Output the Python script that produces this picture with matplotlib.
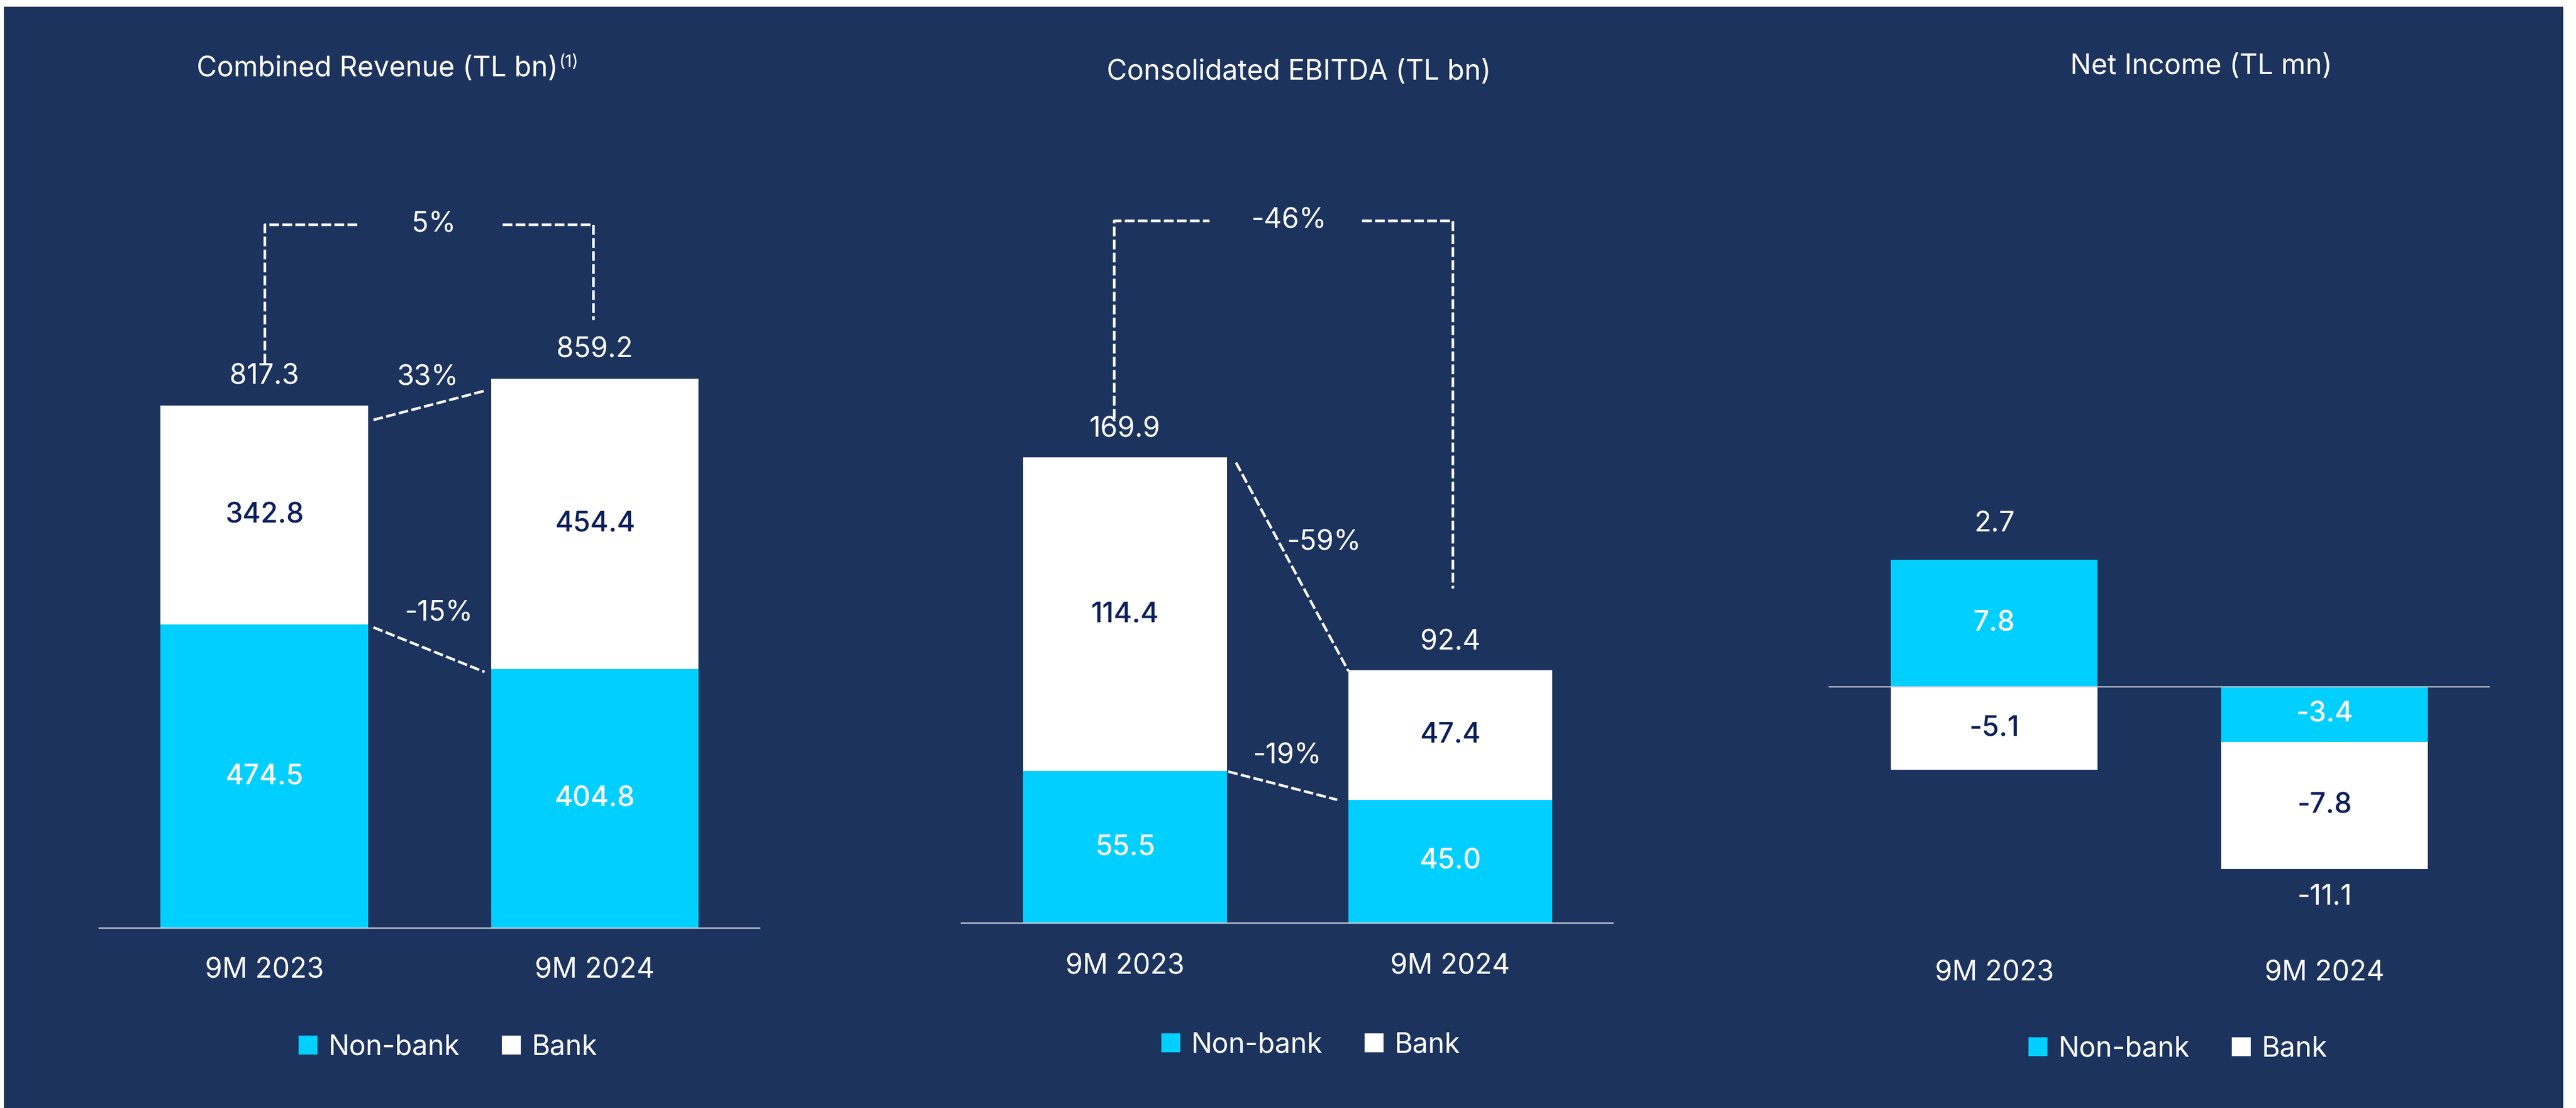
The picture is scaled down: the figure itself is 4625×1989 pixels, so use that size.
import numpy as np
import matplotlib
matplotlib.use("Agg")
import matplotlib.pyplot as plt
from matplotlib.patches import Rectangle, Patch

plt.rcParams['font.family'] = ['Inter', 'DejaVu Sans']

# --- data ---
categories = ["9M 2023", "9M 2024"]
segments = ["Non-bank", "Bank"]

revenue_nonbank = [474.5, 404.8]
revenue_bank = [342.8, 454.4]
revenue_total = [817.3, 859.2]
revenue_growth = {"total": "5%", "bank": "33%", "nonbank": "-15%"}

ebitda_nonbank = [55.5, 45.0]
ebitda_bank = [114.4, 47.4]
ebitda_total = [169.9, 92.4]
ebitda_growth = {"total": "-46%", "bank": "-59%", "nonbank": "-19%"}

netinc_nonbank = [7.8, -3.4]
netinc_bank = [-5.1, -7.8]
netinc_total = [2.7, -11.1]

# --- style ---
NAVY = "#1C335E"
CYAN = "#00CFFF"
INK = "#0B1F5B"
RULE = "#C9CED8"
FS = 36
PT = 0.72          # points per pixel at dpi 100
BAR_W = 0.627
DASH = dict(color="white", lw=3.3, ls=(0, (3.8, 1.3)), zorder=3)

W, H = 4625, 1989
fig = plt.figure(figsize=(W / 100, H / 100), dpi=100, facecolor="white")
fig.add_artist(Rectangle((7 / W, 0), (4602 - 7) / W, 1 - 12 / H,
                         transform=fig.transFigure, facecolor=NAVY,
                         edgecolor="none", zorder=0))


def panel(left, right, base, top, c0, c1, zero, ppu, spine=True):
    ax = fig.add_axes([left / W, 1 - base / H, (right - left) / W, (base - top) / H])
    sp = c1 - c0
    ax.set_xlim((left - c0) / sp, (right - c0) / sp)
    ax.set_ylim((zero - base) / ppu, (zero - top) / ppu)
    ax.set_facecolor("none")
    for s in ax.spines.values():
        s.set_visible(False)
    if spine:
        ax.spines["bottom"].set_visible(True)
        ax.spines["bottom"].set_color(RULE)
        ax.spines["bottom"].set_linewidth(1.6)
    else:
        ax.axhline(0, color=RULE, lw=1.6, zorder=3)
    ax.set_yticks([])
    ax.set_xticks(range(len(categories)))
    ax.set_xticklabels([])
    ax.tick_params(axis="x", length=0)
    ax.sp, ax.ppu = sp, ppu
    return ax


def stack(ax, nonbank, bank):
    x = np.arange(len(categories))
    pos = np.zeros(len(x))
    neg = np.zeros(len(x))
    for vals, color, txt in [(nonbank, CYAN, "white"), (bank, "white", INK)]:
        vals = np.asarray(vals, float)
        bottom = np.where(vals >= 0, pos, neg)
        ax.bar(x, vals, BAR_W, bottom=bottom, color=color, zorder=2)
        for xi, b, v in zip(x, bottom, vals):
            ax.text(xi, b + v / 2, f"{v:.1f}", ha="center", va="center",
                    color=txt, fontsize=FS, fontweight="medium", zorder=4)
        pos = np.where(vals >= 0, pos + vals, pos)
        neg = np.where(vals < 0, neg + vals, neg)
    return pos, neg


def totals(ax, total, pos, neg, up=50, down=50):
    for xi, t in enumerate(total):
        if t >= 0:
            ax.annotate(f"{t:.1f}", (xi, pos[xi]), xytext=(0, up * PT),
                        textcoords="offset points", ha="center", va="center",
                        color="white", fontsize=FS)
        else:
            ax.annotate(f"{t:.1f}", (xi, neg[xi]), xytext=(0, -down * PT),
                        textcoords="offset points", ha="center", va="center",
                        color="white", fontsize=FS)


def connector(ax, y0, y1, gaps, drops, label, offset):
    # dashed link between the right edge of bar 0 and the left edge of bar 1
    x0 = BAR_W / 2 + gaps[0] / ax.sp
    x1 = 1 - BAR_W / 2 - gaps[1] / ax.sp
    ya = y0 - drops[0] / ax.ppu
    yb = y1 - drops[1] / ax.ppu
    ax.plot([x0, x1], [ya, yb], **DASH)
    ax.annotate(label, ((x0 + x1) / 2, (ya + yb) / 2),
                xytext=(offset[0] * PT, offset[1] * PT), textcoords="offset points",
                ha="center", va="center", color="white", fontsize=FS)


def bracket(ax, total, ends, xs, level, label):
    # elbow from above each bar up to a common level, gap in the middle for the label
    xl, gl, gr, xr = xs
    yl = total[0] + ends[0] / ax.ppu
    yr = total[1] + ends[1] / ax.ppu
    ax.plot([xl, xl, gl], [yl, level, level], **DASH)
    ax.plot([gr, xr, xr], [level, level, yr], **DASH)
    ax.text((gl + gr) / 2 + 0.01, level, label, ha="center", va="center",
            color="white", fontsize=FS)


def xlabels(ax, y_px):
    for xi, c in enumerate(categories):
        ax.annotate(c, (xi, 0), xycoords=("data", "axes fraction"),
                    xytext=(0, -y_px * PT), textcoords="offset points",
                    ha="center", va="center", color="white", fontsize=FS)


def legend(ax, cx, cy):
    handles = [Patch(facecolor=CYAN), Patch(facecolor="white")]
    ax.legend(handles, segments, loc="center", ncol=2, frameon=False,
              bbox_to_anchor=(cx / W, 1 - cy / H), bbox_transform=fig.transFigure,
              fontsize=FS, labelcolor="white", handlelength=0.68, handleheight=0.68,
              handletextpad=0.4, columnspacing=1.5)


# --- Combined revenue ---
ax1 = panel(178, 1364, 1666, 250, 474.5, 1068, 1666, 1.148)
pos, neg = stack(ax1, revenue_nonbank, revenue_bank)
totals(ax1, revenue_total, pos, neg, up=52)
connector(ax1, revenue_total[0], revenue_total[1], (10, 12), (26, 22),
          revenue_growth["bank"], (-2, 50))
connector(ax1, revenue_nonbank[0], revenue_nonbank[1], (10, 12), (5, 5),
          revenue_growth["nonbank"], (18, 65))
bracket(ax1, revenue_total, (76, 106), (0, 0.286, 0.72, 0.995), 1100,
        revenue_growth["total"])
xlabels(ax1, 76)
legend(ax1, 804, 1880)

# --- Consolidated EBITDA ---
ax2 = panel(1726, 2896, 1657, 250, 2020, 2604, 1657, 4.918)
pos, neg = stack(ax2, ebitda_nonbank, ebitda_bank)
totals(ax2, ebitda_total, pos, neg, up=50)
connector(ax2, ebitda_total[0], ebitda_total[1], (16, 0), (9, 2),
          ebitda_growth["bank"], (57, 44))
connector(ax2, ebitda_nonbank[0], ebitda_nonbank[1], (2, 20), (1, 0),
          ebitda_growth["nonbank"], (8, 53))
bracket(ax2, ebitda_total, (70, 147), (-0.034, 0.259, 0.728, 1.007), 256.4,
        ebitda_growth["total"])
xlabels(ax2, 78)
legend(ax2, 2353, 1876)

# --- Net income ---
ax3 = panel(3283, 4470, 1666, 250, 3580.5, 4173.5, 1232.7, 29.19, spine=False)
pos, neg = stack(ax3, netinc_nonbank, netinc_bank)
totals(ax3, netinc_total, pos, neg, up=64, down=50)
xlabels(ax3, 81)
legend(ax3, 3910, 1883)

# --- titles ---
t1 = fig.text(677 / W, 1 - 123 / H, "Combined Revenue (TL bn)", ha="center",
              va="center", color="white", fontsize=FS)
fig.text(2332 / W, 1 - 129 / H, "Consolidated EBITDA (TL bn)", ha="center",
         va="center", color="white", fontsize=FS)
fig.text(3952 / W, 1 - 120 / H, "Net Income (TL mn)", ha="center",
         va="center", color="white", fontsize=FS)

fig.canvas.draw()
bb = t1.get_window_extent()
fig.text((bb.x1 + 2) / W, 1 - 112 / H, "(1)", ha="left", va="center",
         color="white", fontsize=FS * 0.62)

fig.savefig("out.png", dpi=100, facecolor=fig.get_facecolor())
